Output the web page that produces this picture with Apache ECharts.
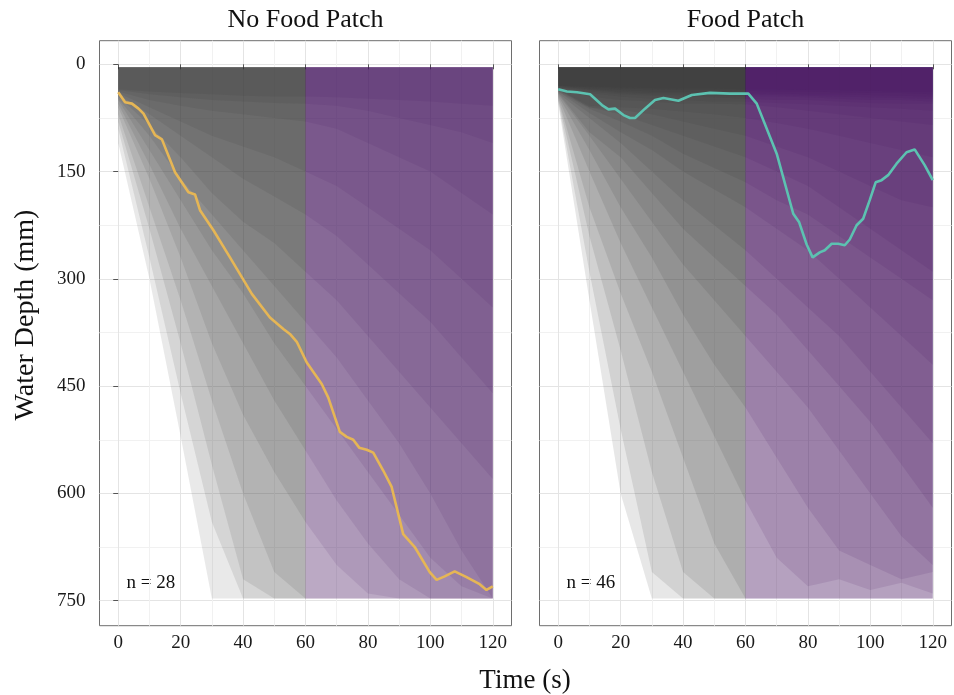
<!DOCTYPE html>
<html>
<head>
<meta charset="utf-8">
<script src="https://cdn.jsdelivr.net/npm/echarts@6.0.0/dist/echarts.min.js"></script>
<style>
  html, body { margin: 0; padding: 0; background: #fff; }
  #chart { width: 954px; height: 695px; }
</style>
</head>
<body>
<div id="chart"></div>
<script>
// time steps of the individual depth traces (s)
var timeSteps = [0, 10, 20, 30, 40, 50, 60, 70, 80, 90, 100, 110, 120];

// individual traces, No Food Patch (depth in mm at each time step)
var noFoodTraces = [
  [110, 300, 520, 747, 747, 747, 747, 747, 747, 747, 747, 747, 747],
  [90, 270, 460, 640, 747, 747, 747, 747, 747, 747, 747, 747, 747],
  [80, 230, 390, 560, 720, 747, 747, 747, 747, 747, 747, 747, 747],
  [70, 200, 330, 470, 600, 710, 747, 747, 747, 747, 747, 747, 747],
  [60, 160, 270, 390, 490, 570, 640, 700, 740, 747, 747, 747, 747],
  [55, 140, 230, 310, 390, 470, 540, 610, 670, 720, 747, 747, 747],
  [50, 120, 190, 260, 320, 390, 450, 510, 570, 630, 690, 730, 747],
  [48, 100, 160, 210, 260, 310, 360, 410, 470, 530, 600, 680, 747],
  [45, 85, 130, 180, 220, 250, 290, 330, 380, 430, 480, 530, 580],
  [42, 70, 100, 130, 160, 185, 210, 240, 280, 320, 360, 410, 460],
  [40, 60, 80, 100, 115, 130, 150, 170, 200, 230, 260, 300, 340],
  [38, 50, 58, 65, 70, 75, 80, 90, 110, 130, 150, 180, 210],
  [36, 42, 46, 50, 52, 54, 55, 58, 65, 75, 85, 95, 110],
  [35, 38, 40, 42, 44, 45, 45, 46, 48, 50, 52, 55, 58]
];

// individual traces, Food Patch
var foodTraces = [
  [55, 330, 600, 747, 747, 747, 747, 747, 747, 747, 747, 747, 747],
  [52, 290, 510, 710, 747, 747, 747, 747, 747, 747, 747, 747, 747],
  [50, 240, 400, 570, 710, 747, 747, 747, 747, 747, 747, 747, 747],
  [48, 200, 320, 430, 550, 670, 747, 747, 747, 747, 747, 747, 747],
  [46, 150, 250, 340, 430, 520, 610, 690, 730, 720, 735, 725, 740],
  [44, 120, 200, 270, 350, 420, 480, 550, 620, 680, 700, 720, 710],
  [42, 100, 160, 220, 280, 330, 380, 430, 480, 540, 600, 660, 700],
  [40, 95, 130, 180, 230, 270, 310, 350, 400, 450, 500, 560, 620],
  [40, 75, 110, 150, 190, 225, 260, 300, 340, 380, 430, 480, 530],
  [38, 68, 95, 120, 150, 175, 200, 230, 260, 300, 340, 380, 420],
  [38, 62, 80, 100, 125, 145, 165, 190, 210, 240, 270, 300, 330],
  [36, 60, 70, 85, 100, 115, 130, 150, 170, 200, 230, 260, 290],
  [36, 60, 64, 70, 80, 90, 100, 115, 130, 150, 170, 190, 200],
  [35, 58, 60, 62, 66, 70, 75, 82, 90, 100, 110, 120, 130],
  [34, 45, 50, 52, 55, 55, 56, 60, 65, 70, 75, 80, 85],
  [33, 40, 45, 48, 50, 52, 52, 54, 56, 58, 60, 62, 65],
  [32, 38, 42, 44, 45, 46, 48, 50, 50, 52, 54, 55, 55],
  [32, 36, 40, 42, 42, 44, 45, 45, 46, 48, 50, 50, 52],
  [31, 35, 38, 40, 40, 42, 42, 43, 44, 45, 46, 47, 48],
  [30, 34, 36, 38, 38, 40, 40, 41, 42, 42, 43, 44, 45],
  [30, 32, 34, 35, 36, 36, 37, 38, 38, 39, 40, 40, 42],
  [30, 31, 32, 33, 34, 34, 35, 35, 36, 36, 37, 38, 38]
];

// highlighted track, No Food Patch
var noFoodLineTime = [0, 2.2, 4.4, 6.5, 8.1, 11.8, 14, 18.2, 22.5, 24.6, 26.2, 30.5, 35.8, 42.8, 48.6, 52.9, 55, 57.2, 60.4, 65.2, 67.3, 71, 73.2, 75.3, 77.2, 79.6, 81.7, 84.9, 87.6, 91.3, 95, 99.8, 102, 104.6, 107.8, 111.6, 115.8, 118, 120];
var noFoodLineDepth = [39, 53, 55, 62, 69, 99, 105, 151, 179, 182, 204, 232, 270, 321, 354, 370, 377, 388, 417, 447, 466, 514, 521, 525, 536, 539, 543, 568, 591, 657, 675, 710, 721, 716, 709, 717, 727, 735, 730];

// highlighted track, Food Patch
var foodLineTime = [0, 2.8, 6, 10.2, 14, 16.1, 18.2, 20.9, 23, 24.6, 27.8, 31, 33.7, 38.5, 42.8, 48.6, 55, 60.9, 63.6, 70, 75.3, 77.2, 79.6, 81.5, 83.8, 85.4, 87.6, 89.7, 91.8, 93.4, 95.6, 97.7, 99.8, 101.7, 103.6, 105.7, 108.4, 111.6, 114.2, 117.4, 120];
var foodLineDepth = [35, 38, 39, 42, 57, 63, 62, 71, 75, 75, 62, 50, 47, 51, 43, 40, 41, 41, 55, 125, 209, 221, 252, 270, 263, 260, 251, 251, 253, 245, 225, 216, 190, 165, 162, 155, 139, 123, 119, 141, 162];

var panelTitles = ['No Food Patch', 'Food Patch'];
var sampleSizes = [28, 46];
var xTicks = [0, 20, 40, 60, 80, 100, 120];
var xMinor = [10, 30, 50, 70, 90, 110];
var yTicks = [0, 150, 300, 450, 600, 750];
var yMinor = [75, 225, 375, 525, 675];
var switchTime = 60;

var FONT = '"Liberation Serif", "DejaVu Serif", serif';
var chart = echarts.init(document.getElementById('chart'), null, { renderer: 'canvas' });

var panels = [
  { left: 99.5, traces: noFoodTraces, alpha: 0.11, lineT: noFoodLineTime, lineD: noFoodLineDepth, lineColor: '#e6b655' },
  { left: 539.5, traces: foodTraces, alpha: 0.12, lineT: foodLineTime, lineD: foodLineDepth, lineColor: '#5cc2b1' }
];
var panelTop = 40.7, panelW = 412, panelH = 585;

var grids = [], xAxes = [], yAxes = [], series = [], graphics = [];

panels.forEach(function (p, pi) {
  grids.push({
    left: p.left, top: panelTop, width: panelW, height: panelH,
    show: true, borderColor: '#6e6e6e', borderWidth: 1, backgroundColor: '#fff'
  });
  var gx = xAxes.length, gy = yAxes.length;
  // major x axis
  xAxes.push({
    type: 'value', gridIndex: pi, min: -6, max: 126, position: 'bottom',
    axisLine: { show: false },
    axisTick: { show: true, length: 5, lineStyle: { color: '#555' }, customValues: xTicks },
    axisLabel: { customValues: xTicks, fontFamily: FONT, fontSize: 19, color: '#1a1a1a', margin: 8 },
    splitLine: { show: true, lineStyle: { color: '#e4e4e4', width: 1 } }
  });
  // minor x grid
  xAxes.push({
    type: 'value', gridIndex: pi, min: -6, max: 126, position: 'top',
    axisLine: { show: false },
    axisTick: { show: false, customValues: xMinor },
    axisLabel: { show: false, customValues: xMinor },
    splitLine: { show: true, lineStyle: { color: '#f1f1f1', width: 1 } }
  });
  yAxes.push({
    type: 'value', gridIndex: pi, min: -33, max: 785, inverse: true,
    axisLine: { show: false },
    axisTick: { show: pi === 0, length: 5, lineStyle: { color: '#555' }, customValues: yTicks },
    axisLabel: { show: pi === 0, customValues: yTicks, fontFamily: FONT, fontSize: 19, color: '#1a1a1a', margin: 14 },
    splitLine: { show: true, lineStyle: { color: '#e4e4e4', width: 1 } }
  });
  yAxes.push({
    type: 'value', gridIndex: pi, min: -33, max: 785, inverse: true, position: 'right',
    axisLine: { show: false },
    axisTick: { show: false, customValues: yMinor },
    axisLabel: { show: false, customValues: yMinor },
    splitLine: { show: true, lineStyle: { color: '#f1f1f1', width: 1 } }
  });

  var gray = 'rgba(58,58,58,' + p.alpha + ')';
  var purple = 'rgba(76,23,97,' + p.alpha + ')';
  p.traces.forEach(function (tr) {
    var before = [], after = [];
    timeSteps.forEach(function (t, i) {
      if (t <= switchTime) before.push([t, tr[i]]);
      if (t >= switchTime) after.push([t, tr[i]]);
    });
    [[before, gray], [after, purple]].forEach(function (part) {
      series.push({
        type: 'line', xAxisIndex: gx, yAxisIndex: gy, data: part[0],
        symbol: 'none', silent: true, animation: false,
        lineStyle: { width: 0, opacity: 0 },
        areaStyle: { color: part[1], opacity: 1, origin: 4 },
        z: 2
      });
    });
  });

  series.push({
    type: 'line', xAxisIndex: gx, yAxisIndex: gy,
    data: p.lineT.map(function (t, i) { return [t, p.lineD[i]]; }),
    symbol: 'none', silent: true, animation: false,
    lineStyle: { color: p.lineColor, width: 2.6 },
    z: 5
  });

  graphics.push({
    type: 'text', x: p.left + panelW / 2, y: 20,
    style: { text: panelTitles[pi], font: '26px ' + FONT, fill: '#111', align: 'center', verticalAlign: 'middle' }
  });
  graphics.push({
    type: 'text', x: p.left + 27, y: 583,
    style: { text: 'n = ' + sampleSizes[pi], font: '19px ' + FONT, fill: '#111', align: 'left', verticalAlign: 'middle' }
  });
});

graphics.push({
  type: 'text', x: 525, y: 681, style: { text: 'Time (s)', font: '27px ' + FONT, fill: '#111', align: 'center', verticalAlign: 'middle' }
});
graphics.push({
  type: 'text', x: 26, y: 315, rotation: Math.PI / 2,
  style: { text: 'Water Depth (mm)', font: '28px ' + FONT, fill: '#111', align: 'center', verticalAlign: 'middle' }
});

chart.setOption({
  animation: false,
  grid: grids,
  xAxis: xAxes,
  yAxis: yAxes,
  series: series,
  graphic: graphics
});
</script>
</body>
</html>
